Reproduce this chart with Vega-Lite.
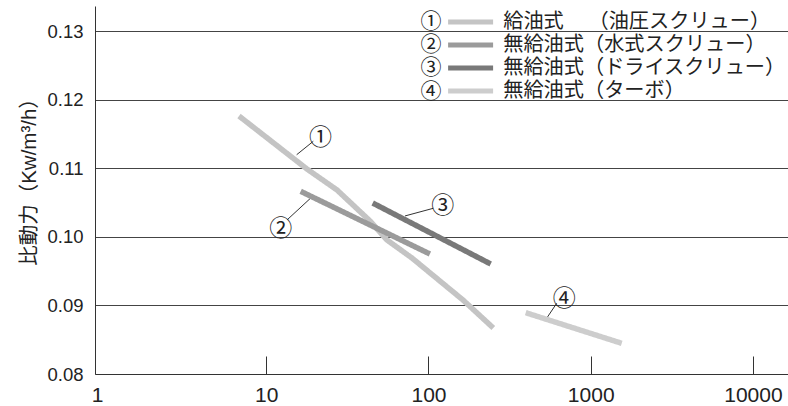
{
  "$schema": "https://vega.github.io/schema/vega-lite/v6.json",
  "width": 693,
  "height": 368,
  "autosize": {"type": "none"},
  "padding": {"left": 95, "top": 6, "right": 0, "bottom": 32},
  "background": "white",
  "config": {"view": {"stroke": null}},
  "datasets": {
    "lines": [
      {"label": "給油式　 （油圧スクリュー）", "num": "①", "x": 6.79, "y": 0.11766},
      {"label": "給油式　 （油圧スクリュー）", "num": "①", "x": 17.8, "y": 0.10993},
      {"label": "給油式　 （油圧スクリュー）", "num": "①", "x": 27.3, "y": 0.10686},
      {"label": "給油式　 （油圧スクリュー）", "num": "①", "x": 43.6, "y": 0.10234},
      {"label": "給油式　 （油圧スクリュー）", "num": "①", "x": 55.5, "y": 0.09956},
      {"label": "給油式　 （油圧スクリュー）", "num": "①", "x": 79.1, "y": 0.09693},
      {"label": "給油式　 （油圧スクリュー）", "num": "①", "x": 163.2, "y": 0.0908},
      {"label": "給油式　 （油圧スクリュー）", "num": "①", "x": 250.8, "y": 0.08672},
      {"label": "無給油式（水式スクリュー）", "num": "②", "x": 16.3, "y": 0.10667},
      {"label": "無給油式（水式スクリュー）", "num": "②", "x": 102, "y": 0.09752},
      {"label": "無給油式（ドライスクリュー）", "num": "③", "x": 45.3, "y": 0.10496},
      {"label": "無給油式（ドライスクリュー）", "num": "③", "x": 241.8, "y": 0.09606},
      {"label": "無給油式（ターボ）", "num": "④", "x": 397.6, "y": 0.08895},
      {"label": "無給油式（ターボ）", "num": "④", "x": 1553, "y": 0.08448}
    ],
    "notes": [
      {"t": "①", "x": 21.6, "y": 0.11445},
      {"t": "②", "x": 12.27, "y": 0.10121},
      {"t": "③", "x": 122.4, "y": 0.10453},
      {"t": "④", "x": 687.6, "y": 0.09091}
    ],
    "leaders": [
      {"x": 15.39, "y": 0.11201, "xe": 19.49, "ye": 0.11397},
      {"x": 13.48, "y": 0.10253, "xe": 18.6, "ye": 0.10559},
      {"x": 71.6, "y": 0.10307, "xe": 107.1, "ye": 0.10419},
      {"x": 540.1, "y": 0.08828, "xe": 617.1, "ye": 0.09032}
    ]
  },
  "encoding": {
    "x": {
      "field": "x", "type": "quantitative",
      "scale": {"type": "log", "domain": [0.879, 16456], "nice": false},
      "axis": {
        "values": [1, 10, 100, 1000, 10000],
        "format": "d",
        "title": null,
        "grid": false,
        "domainColor": "#333",
        "domainWidth": 1,
        "tickSize": -18,
        "tickWidth": 1,
        "tickColor": {"condition": {"test": "datum.value === 1", "value": "transparent"}, "value": "#333"},
        "labelFont": "Liberation Sans",
        "labelFontSize": 21,
        "labelColor": "#222",
        "labelPadding": 28,
        "labelOffset": {"condition": {"test": "datum.value === 1", "value": -7}, "value": 0},
        "labelFlush": false,
        "labelOverlap": false
      }
    },
    "y": {
      "field": "y", "type": "quantitative",
      "scale": {"domain": [0.08, 0.13372], "nice": false, "zero": false},
      "axis": {
        "values": [0.08, 0.09, 0.1, 0.11, 0.12, 0.13],
        "format": ".2f",
        "title": "比動力（Kw/m³/h）",
        "grid": true,
        "gridColor": "#444",
        "gridWidth": 1,
        "ticks": false,
        "domainColor": "#333",
        "labelFont": "Liberation Sans",
        "labelFontSize": 18.5,
        "labelColor": "#222",
        "labelPadding": 12,
        "titleFont": "Liberation Sans, Noto Sans CJK JP",
        "titleFontSize": 20.5,
        "titleFontWeight": "normal",
        "titleColor": "#222",
        "titleX": -66,
        "titleY": 170.5,
        "titleAngle": 270,
        "titleAlign": "center",
        "titleBaseline": "middle"
      }
    }
  },
  "layer": [
    {
      "data": {"name": "leaders"},
      "mark": {"type": "rule", "stroke": "#333", "strokeWidth": 1},
      "encoding": {"x2": {"field": "xe"}, "y2": {"field": "ye"}}
    },
    {
      "data": {"name": "lines"},
      "mark": {"type": "line", "strokeWidth": 5.5, "strokeCap": "butt"},
      "encoding": {
        "color": {
          "field": "label", "type": "nominal",
          "scale": {
            "domain": ["給油式　 （油圧スクリュー）", "無給油式（水式スクリュー）", "無給油式（ドライスクリュー）", "無給油式（ターボ）"],
            "range": ["#c4c4c4", "#9b9b9b", "#797979", "#cdcdcd"]
          },
          "legend": {
            "orient": "none", "legendX": 365.5, "legendY": 5.9, "title": null,
            "symbolType": "M-4.5,0H4.5", "symbolSize": 100, "symbolStrokeWidth": 5,
            "labelFont": "Noto Sans CJK JP", "labelFontSize": 20.2, "labelColor": "#222",
            "labelOffset": 22.5, "labelLimit": 0, "rowPadding": 2.0, "padding": 0, "offset": 0
          }
        },
        "strokeDash": {
          "field": "num", "type": "nominal",
          "scale": {"domain": ["①", "②", "③", "④"], "range": [[1, 0], [1, 0], [1, 0], [1, 0]]},
          "legend": {
            "orient": "none", "legendX": 304.5, "legendY": 5.5, "title": null,
            "symbolOpacity": 0, "symbolSize": 1,
            "labelFont": "Noto Sans CJK JP", "labelFontSize": 21, "labelColor": "#222",
            "labelOffset": 0, "labelLimit": 0, "rowPadding": 1.2, "padding": 0, "offset": 0
          }
        }
      }
    },
    {
      "data": {"name": "notes"},
      "mark": {"type": "text", "font": "Noto Sans CJK JP", "fontSize": 23, "color": "#222", "align": "center", "baseline": "middle"},
      "encoding": {"text": {"field": "t"}}
    }
  ]
}
